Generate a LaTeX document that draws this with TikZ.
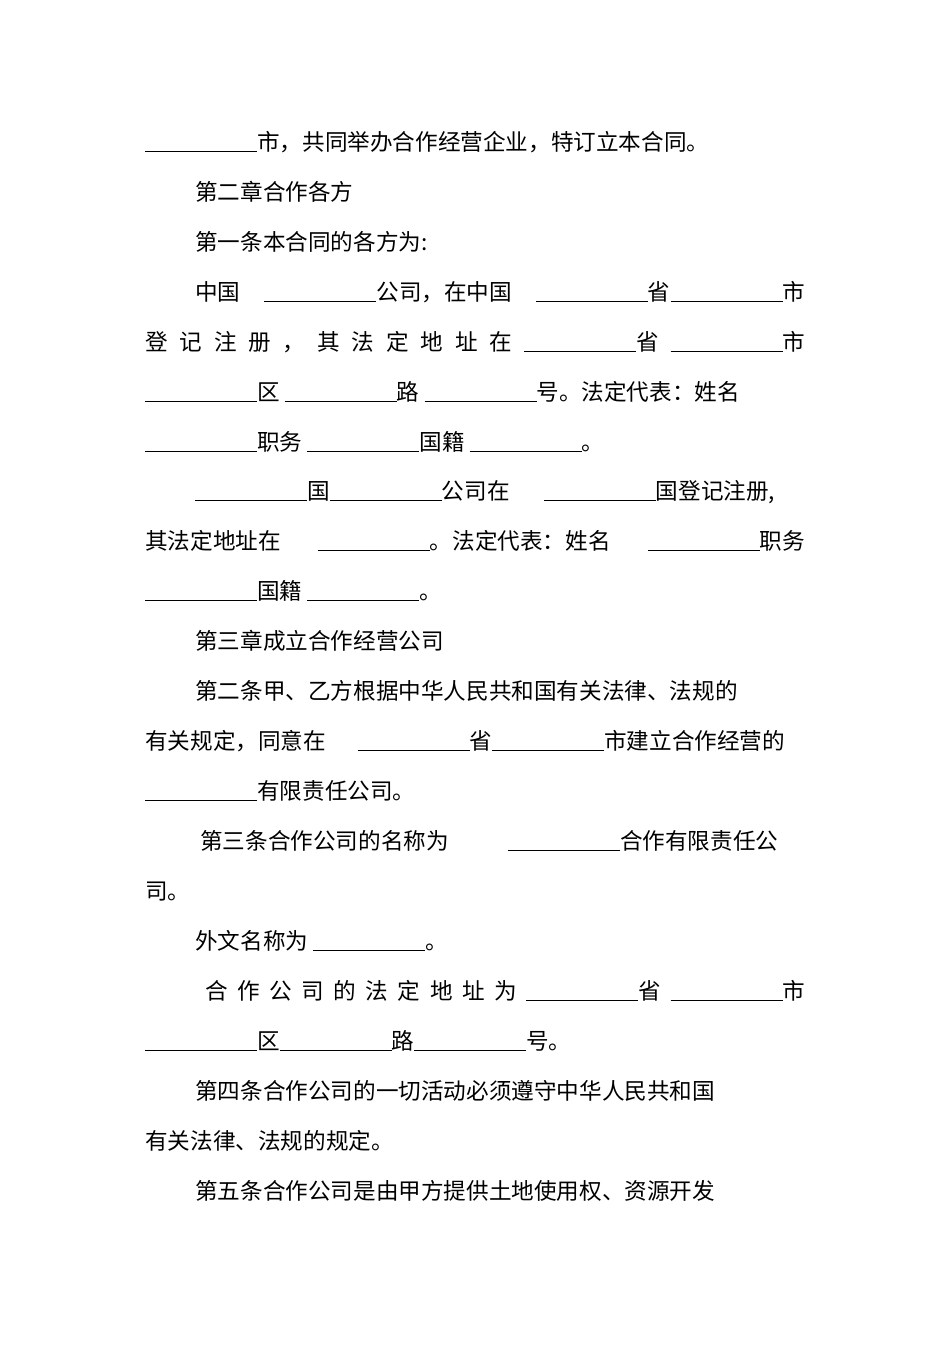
\documentclass[tikz,border=0pt]{standalone}
\usepackage{fontspec}
\setmainfont{Noto Sans CJK SC}
\newcommand{\bl}{\rule[-2pt]{112pt}{0.8pt}}
\tikzset{ln/.style={anchor=base west,inner sep=0pt,font=\fontsize{22.6}{24}\selectfont}}
\begin{document}
\begin{tikzpicture}[x=1pt,y=-1pt]
\useasboundingbox[fill=white] (0,0) rectangle (950,1345);
\node[ln] (l1) at (145,150) {\bl 市，共同举办合作经营企业，特订立本合同。};
\node[ln] (l2) at (195,200) {第二章合作各方};
\node[ln] (l3) at (195,250) {第一条本合同的各方为:};
\node[ln] (l4) at (195,300) {\makebox[610pt][s]{中国 \bl 公司，在中国 \bl 省\bl 市}};
\node[ln] (l5) at (145,350) {\makebox[660pt][s]{登 记 注 册 ， 其 法 定 地 址 在 \bl 省 \bl 市}};
\node[ln] (l6) at (145,400) {\bl 区 \bl 路 \bl 号。法定代表：姓名};
\node[ln] (l7) at (145,450) {\bl 职务 \bl 国籍 \bl 。};
\node[ln] (l8) at (195,499) {\makebox[580pt][s]{\bl 国\bl 公司在 \bl 国登记注册,}};
\node[ln] (l9) at (145,549) {\makebox[660pt][s]{其法定地址在 \bl 。法定代表：姓名 \bl 职务}};
\node[ln] (l10) at (145,599) {\bl 国籍 \bl 。};
\node[ln] (l11) at (195,649) {第三章成立合作经营公司};
\node[ln] (l12) at (195,699) {第二条甲、乙方根据中华人民共和国有关法律、法规的};
\node[ln] (l13) at (145,749) {\makebox[640pt][s]{有关规定，同意在 \bl 省\bl 市建立合作经营的}};
\node[ln] (l14) at (145,799) {\bl 有限责任公司。};
\node[ln] (l15) at (200,849) {\makebox[578pt][s]{第三条合作公司的名称为 \bl 合作有限责任公}};
\node[ln] (l16) at (145,899) {司。};
\node[ln] (l17) at (195,949) {外文名称为 \bl 。};
\node[ln] (l18) at (205,999) {\makebox[600pt][s]{合 作 公 司 的 法 定 地 址 为 \bl 省 \bl 市}};
\node[ln] (l19) at (145,1049) {\bl 区\bl 路\bl 号。};
\node[ln] (l20) at (195,1099) {第四条合作公司的一切活动必须遵守中华人民共和国};
\node[ln] (l21) at (145,1149) {有关法律、法规的规定。};
\node[ln] (l22) at (195,1199) {第五条合作公司是由甲方提供土地使用权、资源开发};
\end{tikzpicture}
\end{document}
